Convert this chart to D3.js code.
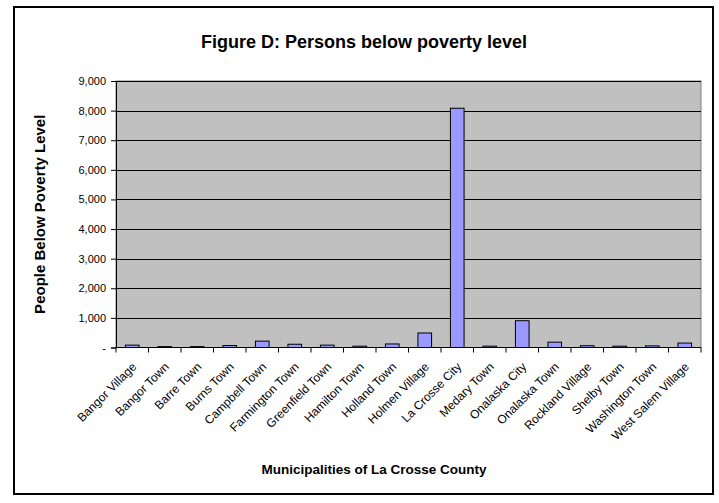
<!DOCTYPE html>
<html>
<head>
<meta charset="utf-8">
<script src="https://cdn.jsdelivr.net/npm/d3@7"></script>
<style>
  html, body { margin: 0; padding: 0; background: #fff; }
  svg { display: block; }
  text { font-family: "Liberation Sans", Arial, sans-serif; fill: #000; }
</style>
</head>
<body>
<svg id="chart" width="719" height="503"></svg>
<script>
const categories = ["Bangor Village", "Bangor Town", "Barre Town", "Burns Town", "Campbell Town",
  "Farmington Town", "Greenfield Town", "Hamilton Town", "Holland Town", "Holmen Village",
  "La Crosse City", "Medary Town", "Onalaska City", "Onalaska Town", "Rockland Village",
  "Shelby Town", "Washington Town", "West Salem Village"];
const values = [80, 30, 30, 65, 215, 110, 80, 45, 120, 490, 8080, 45, 905, 180, 60, 45, 55, 150];
const yTicks = [0, 1000, 2000, 3000, 4000, 5000, 6000, 7000, 8000, 9000];
const chartTitle = "Figure D: Persons below poverty level";
const xTitle = "Municipalities of La Crosse County";
const yTitle = "People Below Poverty Level";

const svg = d3.select("#chart");
const plot = { left: 116, right: 701, top: 81, bottom: 347.5 };

// outer frame
svg.append("rect").attr("x", 14).attr("y", 7).attr("width", 699).attr("height", 487)
  .attr("fill", "#fff").attr("stroke", "#000").attr("stroke-width", 2);

const x = d3.scaleBand().domain(categories).range([plot.left, plot.right]).paddingInner(0).paddingOuter(0);
const y = d3.scaleLinear().domain([0, 9000]).range([plot.bottom, plot.top]);

// plot area
svg.append("rect").attr("x", plot.left).attr("y", plot.top)
  .attr("width", plot.right - plot.left).attr("height", plot.bottom - plot.top)
  .attr("fill", "#c0c0c0").attr("stroke", "#808080").attr("stroke-width", 1);

// gridlines
svg.append("g").selectAll("line").data(yTicks.filter(d => d > 0)).join("line")
  .attr("x1", plot.left).attr("x2", plot.right)
  .attr("y1", d => Math.round(y(d)) + 0.5).attr("y2", d => Math.round(y(d)) + 0.5)
  .attr("stroke", "#000").attr("stroke-width", 1);

// bars
const bw = x.bandwidth() * 0.42;
svg.append("g").selectAll("rect").data(values).join("rect")
  .attr("x", (d, i) => x(categories[i]) + (x.bandwidth() - bw) / 2)
  .attr("y", d => y(d))
  .attr("width", bw)
  .attr("height", d => plot.bottom - y(d))
  .attr("fill", "#9999ff").attr("stroke", "#000").attr("stroke-width", 1);

// y axis
const fmt = d3.format(",");
const yAxis = d3.axisLeft(y).tickValues(yTicks).tickSize(5).tickPadding(5)
  .tickFormat(d => d === 0 ? "-" : fmt(d));
const gy = svg.append("g").attr("transform", `translate(${plot.left},0)`).call(yAxis);
gy.selectAll("text").style("font-size", "11px");
gy.selectAll("line, path").attr("stroke", "#000");

// x axis: ticks at category boundaries
const gx = svg.append("g").attr("transform", `translate(0,${plot.bottom})`);
gx.append("line").attr("x1", plot.left).attr("x2", plot.right).attr("stroke", "#000");
const bounds = categories.map(c => x(c)).concat([plot.right]);
gx.selectAll("line.tk").data(bounds).join("line").attr("class", "tk")
  .attr("x1", d => d).attr("x2", d => d).attr("y1", 0).attr("y2", 5).attr("stroke", "#000");
gx.selectAll("text").data(categories).join("text")
  .attr("transform", d => `translate(${x(d) + x.bandwidth() / 2 + 2},${17}) rotate(-45)`)
  .attr("text-anchor", "end")
  .attr("dy", "0.35em")
  .style("font-size", "12px")
  .text(d => d);

// titles
svg.append("text").attr("x", 364).attr("y", 48).attr("text-anchor", "middle")
  .style("font-size", "18px").style("font-weight", "bold").text(chartTitle);
svg.append("text").attr("x", 374).attr("y", 474).attr("text-anchor", "middle")
  .style("font-size", "13.5px").style("font-weight", "bold").text(xTitle);
svg.append("text").attr("transform", `translate(45,${(plot.top + plot.bottom) / 2}) rotate(-90)`)
  .attr("text-anchor", "middle")
  .style("font-size", "15px").style("font-weight", "bold").text(yTitle);
</script>
</body>
</html>
